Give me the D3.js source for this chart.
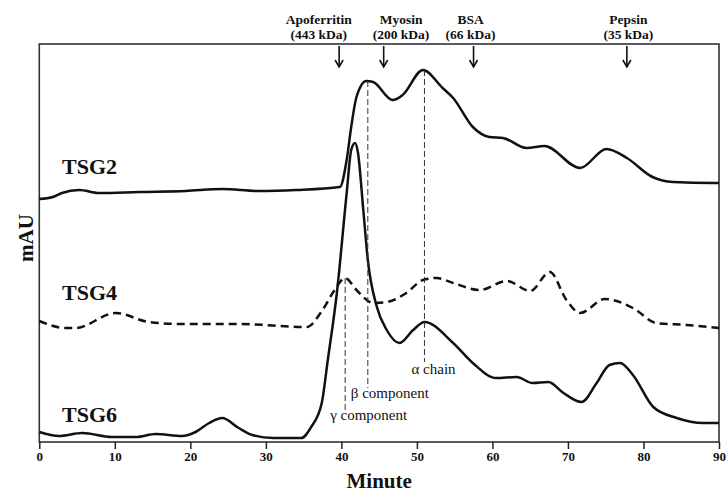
<!DOCTYPE html>
<html lang="en">
  <head>
    <title>Chromatogram</title>
    <script src="https://d3js.org/d3.v7.min.js"></script>
    <style>
      body {
        margin: 0;
        background: #fff;
      }
      text {
        font-family: "Liberation Serif", "DejaVu Serif", serif;
        fill: #111;
      }
      .tick text {
        font-family: "Liberation Serif", serif;
        font-size: 13px;
        font-weight: bold;
      }
      .tick line {
        stroke: #222;
        stroke-width: 1.5;
      }
    </style>
  </head>
  <body>
    <svg id="chart" width="727" height="493"></svg>
    <script>
      // minutes and mAU
      const tsg2Minute = [0, 1.8, 3, 5.3, 7.9, 13.2, 19.4, 24.2, 29.1, 34, 39.8, 40.7, 41.3, 42, 43.3, 44.2, 46.8, 48.1, 50.8, 53.4, 54.8, 57.4, 59.6, 61.4, 64.5, 66.9, 71.6, 75.1, 77.8, 81.2, 83.9, 89.2, 90];
      const tsg2Mau = [243, 245, 249, 252, 249, 250, 251, 253, 251, 252, 255, 282, 315, 345, 361, 360, 342, 347, 372, 354, 344, 315, 305, 304, 294, 296, 274, 293, 284, 265, 260, 259, 259];

      const tsg4Minute = [0, 3.5, 4.8, 10.1, 14.5, 18.9, 26.4, 35.4, 37.5, 39.1, 40.5, 42, 44.2, 46, 48.6, 50.8, 52.6, 54.8, 58.3, 61.9, 65, 67.6, 69.8, 71.6, 74.9, 78.6, 81.7, 85.7, 90];
      const tsg4Mau = [121, 114, 114, 129, 120, 118, 118, 115, 132, 152, 164, 152, 139, 140, 149, 162, 164, 159, 152, 161, 151, 170, 142, 129, 143, 134, 119, 117, 114];

      const tsg6Minute = [0, 2.6, 5.7, 9.6, 12.8, 15.4, 18.9, 20.7, 22.5, 24.2, 26.4, 28.2, 31, 34.7, 36, 37.4, 38.2, 39.4, 40.7, 41.3, 41.8, 42.2, 42.9, 43.5, 44.7, 46, 47.7, 49.5, 51, 54.8, 57.4, 60.5, 63.2, 65.3, 67.4, 69.4, 71.8, 73.8, 75.5, 76.9, 78.6, 81.3, 84.4, 87.9, 90];
      const tsg6Mau = [10, 6, 9, 5, 5, 8, 6, 10, 19, 24, 14, 7, 4, 4, 15, 39, 82, 149, 249, 292, 299, 289, 232, 182, 135, 112, 99, 112, 120, 99, 79, 64, 65, 59, 60, 49, 40, 59, 77, 79, 67, 35, 24, 19, 19];

      const seriesNames = ["TSG2", "TSG4", "TSG6"];
      const seriesLabelMau = [268, 142, 20];

      const standardNames = ["Apoferritin", "Myosin", "BSA", "Pepsin"];
      const standardSizes = ["(443 kDa)", "(200 kDa)", "(66 kDa)", "(35 kDa)"];
      const standardMinute = [39.7, 45.6, 57.5, 77.8];
      const standardLabelMinute = [37.0, 47.9, 57.1, 78.0];

      const componentNames = ["\u03b3 component", "\u03b2 component", "\u03b1 chain"];
      const componentMinute = [40.5, 43.5, 51];
      const componentTopMau = [164, 361, 372];
      const componentBottomMau = [30, 54, 80];

      const xTicks = [0, 10, 20, 30, 40, 50, 60, 70, 80, 90];

      const svg = d3.select("#chart");
      const margin = { top: 44, right: 8, bottom: 51, left: 39 };
      const width = +svg.attr("width");
      const height = +svg.attr("height");

      const x = d3.scaleLinear().domain([0, 90]).range([margin.left + 0.3, width - margin.right]);
      const y = d3.scaleLinear().domain([0, 398]).range([height - margin.bottom, margin.top]);

      // frame
      svg
        .append("rect")
        .attr("x", x(0))
        .attr("y", y(398))
        .attr("width", x(90) - x(0))
        .attr("height", y(0) - y(398))
        .attr("fill", "none")
        .attr("stroke", "#333")
        .attr("stroke-width", 1.6);

      svg
        .append("g")
        .attr("transform", `translate(0,${y(0)})`)
        .call(d3.axisBottom(x).tickValues(xTicks).tickSize(7).tickPadding(3).tickSizeOuter(0))
        .call((g) => g.select(".domain").remove());

      svg
        .append("text")
        .attr("x", (x(0) + x(90)) / 2)
        .attr("y", 488)
        .attr("text-anchor", "middle")
        .style("font-size", "21px")
        .style("font-weight", "bold")
        .text("Minute");

      svg
        .append("text")
        .attr("transform", `translate(33,238) rotate(-90)`)
        .attr("text-anchor", "middle")
        .style("font-size", "21px")
        .style("font-weight", "bold")
        .text("mAU");

      const line = d3
        .line()
        .x((d) => x(d[0]))
        .y((d) => y(d[1]))
        .curve(d3.curveMonotoneX);

      const series = [
        { minute: tsg2Minute, mau: tsg2Mau, dash: null },
        { minute: tsg4Minute, mau: tsg4Mau, dash: "8,5" },
        { minute: tsg6Minute, mau: tsg6Mau, dash: null },
      ];

      series.forEach((s) => {
        svg
          .append("path")
          .datum(d3.zip(s.minute, s.mau))
          .attr("d", line)
          .attr("fill", "none")
          .attr("stroke", "#111")
          .attr("stroke-width", 2.5)
          .attr("stroke-linejoin", "round")
          .attr("stroke-dasharray", s.dash);
      });

      seriesNames.forEach((name, i) => {
        svg
          .append("text")
          .attr("x", 62)
          .attr("y", y(seriesLabelMau[i]))
          .style("font-size", "22px")
          .style("font-weight", "bold")
          .text(name);
      });

      // component markers
      componentNames.forEach((name, i) => {
        svg
          .append("line")
          .attr("x1", x(componentMinute[i]))
          .attr("x2", x(componentMinute[i]))
          .attr("y1", y(componentTopMau[i]))
          .attr("y2", y(componentBottomMau[i]))
          .attr("stroke", "#333")
          .attr("stroke-width", 1)
          .attr("stroke-dasharray", "6,3");
      });

      const componentLabelX = [-15, -17, -13];
      const componentLabelDy = [8, 10, 12];
      componentNames.forEach((name, i) => {
        svg
          .append("text")
          .attr("x", x(componentMinute[i]) + componentLabelX[i])
          .attr("y", y(componentBottomMau[i]) + componentLabelDy[i])
          .style("font-size", "15px")
          .text(name);
      });

      // molecular weight standards
      standardNames.forEach((name, i) => {
        const ax = x(standardMinute[i]);
        svg
          .append("line")
          .attr("x1", ax)
          .attr("x2", ax)
          .attr("y1", 46)
          .attr("y2", 67)
          .attr("stroke", "#111")
          .attr("stroke-width", 1.6);
        svg
          .append("path")
          .attr("d", `M${ax - 4},${60} L${ax},${67} L${ax + 4},${60}`)
          .attr("fill", "none")
          .attr("stroke", "#111")
          .attr("stroke-width", 1.6);

        const lx = x(standardLabelMinute[i]);
        svg
          .append("text")
          .attr("x", lx)
          .attr("y", 24)
          .attr("text-anchor", "middle")
          .style("font-size", "13.5px")
          .style("font-weight", "bold")
          .text(name);
        svg
          .append("text")
          .attr("x", lx)
          .attr("y", 39)
          .attr("text-anchor", "middle")
          .style("font-size", "13.5px")
          .style("font-weight", "bold")
          .text(standardSizes[i]);
      });
    </script>
  </body>
</html>
